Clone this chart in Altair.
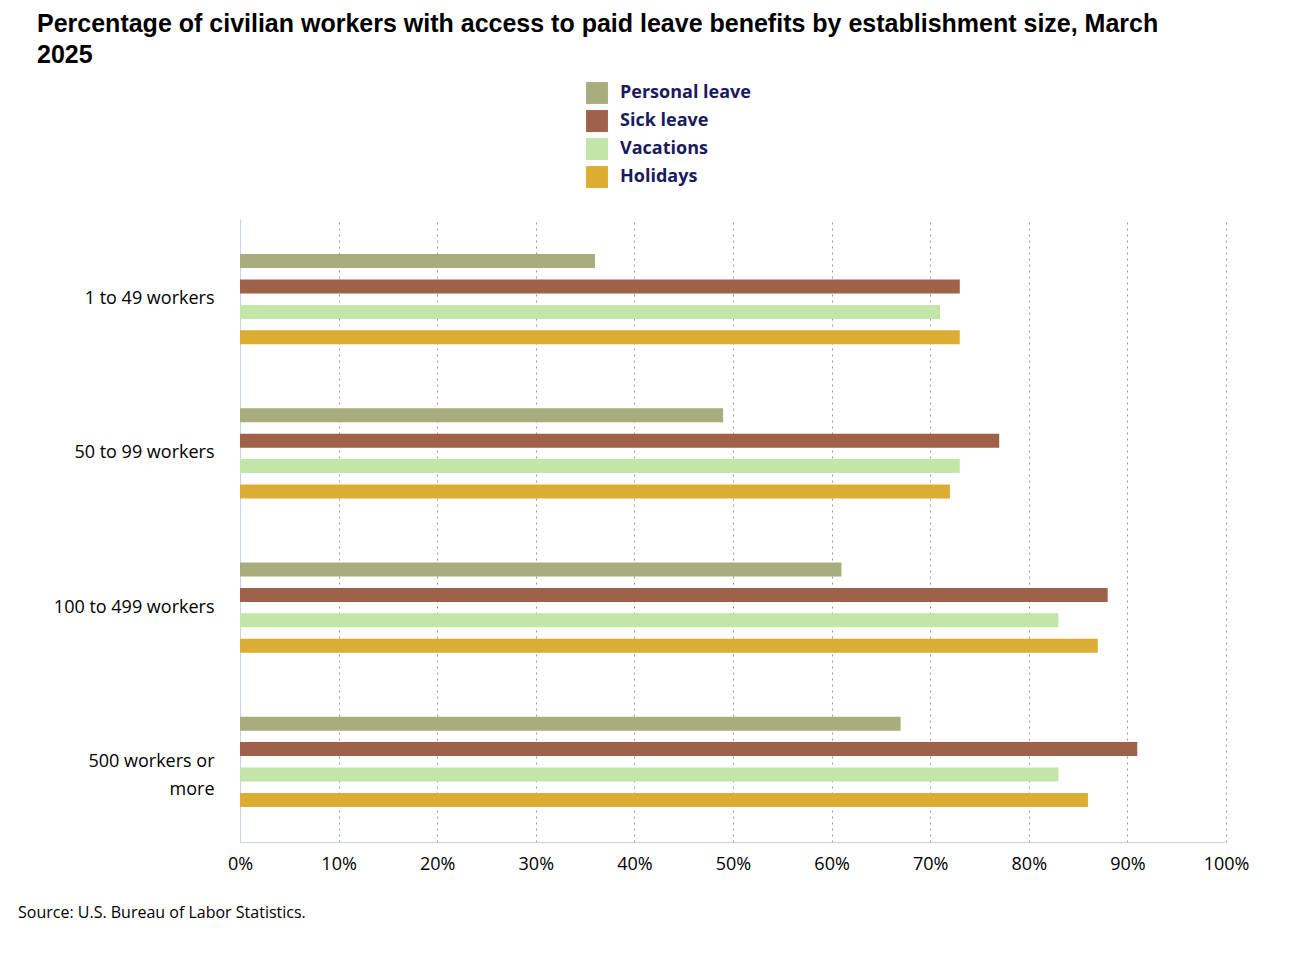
import altair as alt
import pandas as pd

sizes = ["1 to 49 workers", "50 to 99 workers", "100 to 499 workers", "500 workers or more"]
benefits = ["Personal leave", "Sick leave", "Vacations", "Holidays"]
colors = ["#a8ad7e", "#a0614a", "#c2e5a8", "#dcad33"]
personal = [36, 49, 61, 67]
sick = [73, 77, 88, 91]
vacations = [71, 73, 83, 83]
holidays = [73, 72, 87, 86]

rows = []
for i, s in enumerate(sizes):
    for b, vals in zip(benefits, [personal, sick, vacations, holidays]):
        rows.append({"size": s, "benefit": b, "pct": vals[i]})
data = pd.DataFrame(rows)

W, H = 986, 623

bars = alt.Chart(data).mark_bar(size=14).encode(
    x=alt.X("pct:Q", scale=alt.Scale(domain=[0, 100]),
            axis=alt.Axis(labelExpr="datum.value + '%'",
                          values=list(range(0, 101, 10)), title=None,
                          grid=True, gridDash=[2, 4], gridColor="#999999",
                          domainColor="#c5d3e8", ticks=False, labelFontSize=18,
                          labelColor="#000000", labelPadding=13,
                          labelOverlap=False, labelFlush=False,
                          labelFont="Open Sans")),
    y=alt.Y("size:N", sort=sizes,
            scale=alt.Scale(paddingInner=0.4, paddingOuter=0.22),
            axis=alt.Axis(title=None, ticks=False, domainColor="#c5d3e8",
                          labelFontSize=18, labelColor="#000000", labelPadding=26,
                          labelFont="Open Sans", labelLimit=300, labelLineHeight=28,
                          labelExpr="datum.value == '500 workers or more' ? ['500 workers or', 'more'] : datum.value")),
    yOffset=alt.YOffset("benefit:N", sort=benefits, scale=alt.Scale(paddingInner=0.36)),
    color=alt.Color("benefit:N", sort=benefits,
                    scale=alt.Scale(domain=benefits, range=colors),
                    legend=alt.Legend(title=None, orient="none", legendX=346, legendY=-137,
                                      symbolType="square", symbolSize=480,
                                      symbolStrokeWidth=0, labelFontSize=18,
                                      labelFontWeight="bold", labelColor="#1a1a5e",
                                      labelFont="Open Sans", rowPadding=6,
                                      labelOffset=12)),
)

source = alt.Chart(pd.DataFrame({"t": ["Source: U.S. Bureau of Labor Statistics."]})).mark_text(
    align="left", baseline="middle", fontSize=16, font="Open Sans", color="#000000"
).encode(text="t:N", x=alt.value(-222), y=alt.value(H + 71))

chart = alt.layer(bars, source).properties(
    width=W, height=H,
    title=alt.TitleParams(
        ["Percentage of civilian workers with access to paid leave benefits by establishment size, March", "2025"],
        anchor="start", frame="group", dx=-203, fontSize=25, font="Liberation Sans",
        fontWeight="bold", color="#000000", lineHeight=31, offset=14),
    padding={"left": 10, "top": 4, "right": 40, "bottom": 20},
).configure_view(stroke=None).configure_axisY(grid=False)

chart.save("out.html", embed_options={"renderer": "svg", "actions": False})
